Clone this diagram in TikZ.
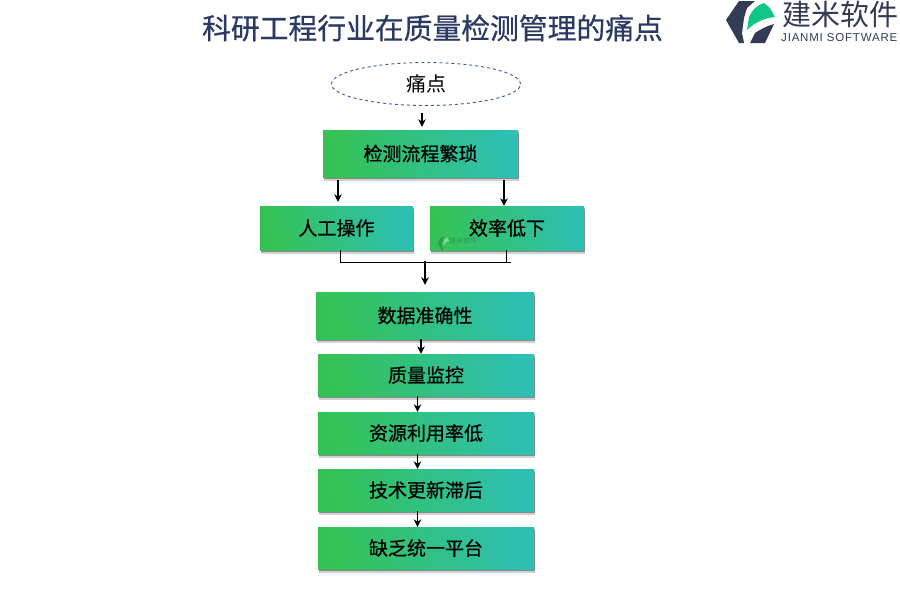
\documentclass[tikz,border=0pt]{standalone}
\usepackage{fontspec}
\usetikzlibrary{shadows,shapes.geometric,arrows.meta,calc}
\setmainfont{Liberation Sans}
\newfontfamily\cjk{Noto Sans CJK SC}
\newfontfamily\cjkh[FakeBold=0.6]{Noto Sans CJK SC}
\definecolor{gl}{HTML}{35C255}
\definecolor{gm}{HTML}{30C28E}
\definecolor{gr}{HTML}{2DBFB2}
\definecolor{navy}{HTML}{2B3A63}
\definecolor{dashc}{HTML}{3B5998}
\definecolor{logod}{HTML}{333C56}
\definecolor{logog}{HTML}{0CC787}
\tikzset{
 x=1pt,y=-1pt,
 flowbox/.style={rectangle,inner sep=0pt,left color=gl,middle color=gm,right color=gr,shading angle=100,
   drop shadow={shadow xshift=1pt,shadow yshift=-3.5pt,fill=black,opacity=.18},
   drop shadow={shadow xshift=1pt,shadow yshift=-2pt,fill=black,opacity=.35},
   font=\cjkh\fontsize{19}{19}\selectfont,text=black},
 arr/.style={draw=black,line width=1.4pt,-{Stealth[length=7.5pt,width=7.5pt]}},
 ln/.style={draw=black,line width=1pt},
}
\begin{document}
\begin{tikzpicture}
\useasboundingbox (0,0) rectangle (900,600);
\node (title) at (432.5,28) {\cjkh\fontsize{28.8}{29}\selectfont\textcolor{navy}{科研工程行业在质量检测管理的痛点}};
\node[ellipse,draw=dashc,dashed,line width=.9pt,minimum width=189pt,minimum height=43pt,inner sep=0pt,font=\cjk\fontsize{20}{20}\selectfont] (pain) at (426,84) {痛点};
\node[flowbox,minimum width=195pt,minimum height=47pt] (detect) at (420.5,153.5) {检测流程繁琐};
\node[flowbox,minimum width=153pt,minimum height=44pt] (manual) at (336.5,228) {人工操作};
\node[flowbox,minimum width=154pt,minimum height=44pt] (eff) at (507,228) {效率低下};
\node[flowbox,minimum width=218pt,minimum height=47pt] (data) at (425,315.5) {数据准确性};
\node[flowbox,minimum width=216pt,minimum height=42pt] (qual) at (426,375) {质量监控};
\node[flowbox,minimum width=216pt,minimum height=42pt] (res) at (426,433) {资源利用率低};
\node[flowbox,minimum width=216pt,minimum height=42pt] (tech) at (426,490) {技术更新滞后};
\node[flowbox,minimum width=216pt,minimum height=42pt] (plat) at (426,548) {缺乏统一平台};
% connectors
\draw[arr,shorten <=7pt,shorten >=3pt] ([xshift=-4pt]pain.south) -- ([xshift=1.5pt]detect.north);
\draw[arr,shorten <=3pt,shorten >=4pt] ([xshift=-82.5pt]detect.south) -- ([xshift=1.5pt]manual.north);
\draw[arr,shorten <=3pt] ([xshift=83.5pt]detect.south) -- ([xshift=-3pt]eff.north);
\coordinate (join) at (425,262.5);
\coordinate (joinr) at (511,262.5);
\draw[ln] ([xshift=3.5pt]manual.south) |- (joinr);
\draw[ln] ([xshift=-1pt]eff.south) -- +(0,11.5);
\draw[arr,shorten <=-2pt,shorten >=7pt] (join) -- (data.north);
\draw[arr] ([xshift=-4pt]data.south) -- ([xshift=-5pt]qual.north);
\draw[arr] ([xshift=-8.5pt]qual.south) -- ([xshift=-8.5pt]res.north);
\draw[arr] ([xshift=-8.5pt]res.south) -- ([xshift=-8.5pt]tech.north);
\draw[arr] ([xshift=-8.5pt]tech.south) -- ([xshift=-8.5pt]plat.north);
% watermark
\fill[logod,opacity=.3] (438,243) -- (441,237) -- (444,237) -- (442,243) -- (443,250) -- (441,250) -- cycle;
\fill[white,opacity=.35] (443,244) .. controls (444,240) and (445,238) .. (447,237) -- (449,241) .. controls (446,242) and (445,243) .. (443,246) -- cycle;
\node[inner sep=0pt,anchor=west,text=logod,opacity=.35,font=\cjk\fontsize{7}{7}\selectfont] (wm) at (449,241) {建米软件};
% logo
\fill[logod] (726,20) -- (739,1) -- (755,1) -- (747,8) -- (744,18) -- (742,33) -- (744,43) -- (739,43) -- cycle;
\fill[logod] (750,43) -- (755,33) .. controls (761,29) and (767,26) .. (774,24) -- (765,43) -- cycle;
\fill[logog] (747,30) -- (749,17) .. controls (752,10) and (757,5) .. (764,3) -- (770,8) -- (775,17) .. controls (765,18) and (755,22) .. (747,30) -- cycle;
\node[inner sep=0pt,anchor=west,text=logod,font=\cjk\fontsize{29}{29}\selectfont] (brand) at (782,14.5) {建米软件};
\node[inner sep=0pt,anchor=west,text=logod,font=\fontsize{11.5}{12}\selectfont\addfontfeature{LetterSpace=7}] (brandsub) at (781,38) {JIANMI SOFTWARE};
\end{tikzpicture}
\end{document}
